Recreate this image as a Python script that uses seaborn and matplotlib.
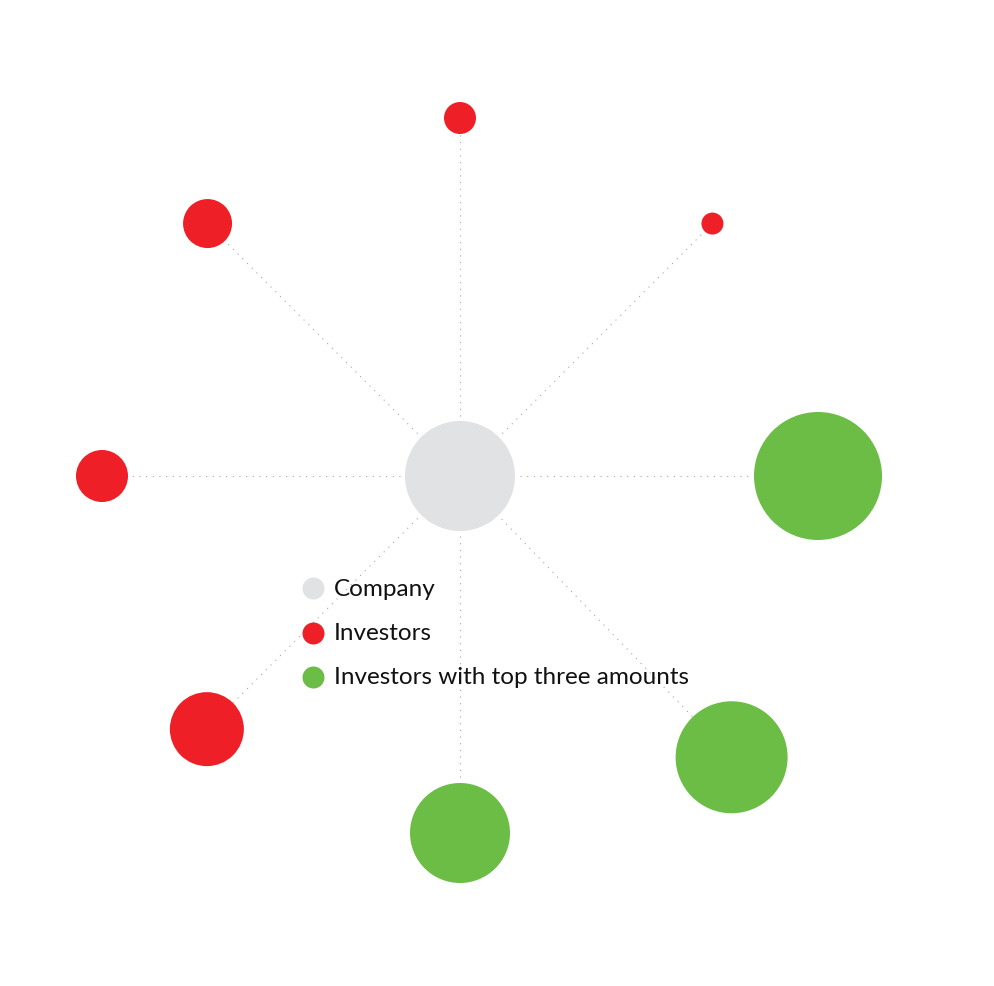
import numpy as np
import pandas as pd
import matplotlib
matplotlib.use("Agg")
import matplotlib.pyplot as plt
import seaborn as sns

# ---- data ----
nodes = ["Company", "Investor A", "Investor B", "Investor C", "Investor D",
         "Investor E", "Investor F", "Investor G", "Investor H"]
groups = ["Company", "Investors", "Investors", "Investors with top three amounts",
          "Investors with top three amounts", "Investors with top three amounts",
          "Investors", "Investors", "Investors"]
angles_deg = [0, 90, 45, 0, -46, -90, -135, 180, 135]
distances = [0, 358, 357, 358, 391, 357, 358, 358, 357]
amounts = [3025, 256, 121, 4096, 3136, 2500, 1369, 676, 600]  # relative amounts (area)
legend_labels = ["Company", "Investors", "Investors with top three amounts"]
colors = {"Company": "#e1e2e3", "Investors": "#ee1f27",
          "Investors with top three amounts": "#6bbd45"}

# ---- layout ----
W, H, DPI = 994, 987, 100
cx, cy = 460, 477
sns.set_theme(style="white")
plt.rcParams["font.family"] = ["Lato", "DejaVu Sans"]

ang = np.deg2rad(np.array(angles_deg, dtype=float))
dist = np.array(distances, dtype=float)
df = pd.DataFrame({
    "node": nodes, "group": groups, "amount": amounts,
    "x": dist * np.cos(ang), "y": dist * np.sin(ang),
})

fig = plt.figure(figsize=(W / DPI, H / DPI), dpi=DPI)
ax = fig.add_axes([0, 0, 1, 1])
ax.set_xlim(-cx, W - cx)
ax.set_ylim(-(H - cy), cy)
ax.set_aspect("equal")
ax.axis("off")

# edges from company to investors
center = df.iloc[0]
for _, r in df.iloc[1:].iterrows():
    ax.plot([center.x, r.x], [center.y, r.y], color="#b0a498", lw=0.8,
            linestyle=(0, (1, 5)), zorder=1, solid_capstyle="butt")

# marker area: diameter in px -> points
px2pt = 72 / DPI
max_amt = max(amounts)
max_s = (2 * np.sqrt(max_amt) * px2pt) ** 2
sns.scatterplot(data=df, x="x", y="y", hue="group", palette=colors,
                size="amount", size_norm=(0, max_amt), sizes=(0, max_s),
                linewidth=0, legend=False, ax=ax, zorder=3)

# legend
leg_x, leg_y0, leg_dy = 313 - cx, cy - 589, 44.5
leg_s = (22 * px2pt) ** 2
for i, lab in enumerate(legend_labels):
    yy = leg_y0 - i * leg_dy
    ax.scatter([leg_x], [yy], s=leg_s, color=colors[lab], linewidths=0, zorder=4)
    ax.text(leg_x + 21, yy, lab, fontsize=17.5, color="#111111",
            va="center", ha="left", zorder=4)

fig.savefig("out.png", dpi=DPI, facecolor="white")
